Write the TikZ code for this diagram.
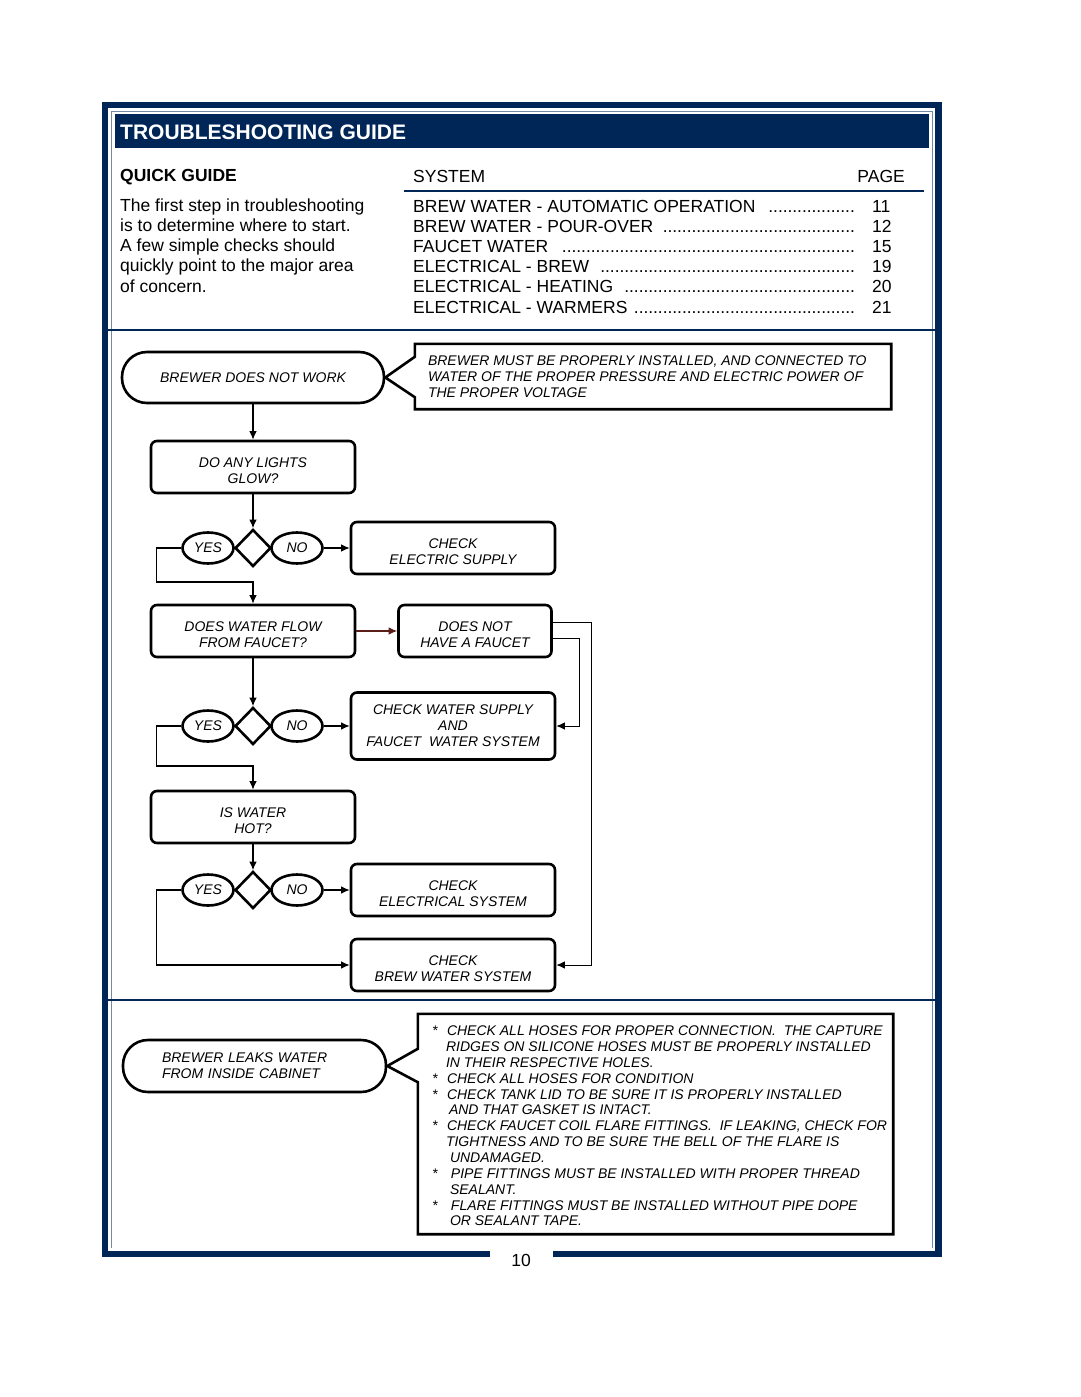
\documentclass[tikz,border=0pt]{standalone}
\usepackage{fontspec}
\setmainfont{Liberation Sans}
\usetikzlibrary{shapes,arrows.meta,positioning,calc}

\definecolor{guidenavy}{RGB}{0,38,87}
\definecolor{flowbrown}{RGB}{90,30,25}
\newcommand{\leaderdots}{\leaders\hbox to 4.8pt{\hss.\hss}\hfill}
\newcommand{\flowfont}{\fontsize{14}{16}\selectfont\itshape}
\newcommand{\firstline}{\rule{0pt}{16.5pt}}

\begin{document}
\begin{tikzpicture}[x=1pt, y=-1pt, on grid, >={Latex[length=8.5pt,width=7.5pt]},
    flowbox/.style={rectangle, draw, line width=2.6pt, rounded corners=6pt, minimum width=204pt, minimum height=52pt, inner sep=0pt, align=center, font=\flowfont},
    startbox/.style={rectangle, draw, line width=2.6pt, rounded corners=25pt, minimum width=262pt, minimum height=51pt, inner sep=0pt, font=\flowfont},
    answer/.style={ellipse, draw, line width=2.6pt, minimum width=51pt, minimum height=31pt, inner sep=0pt, font=\flowfont},
    decision/.style={diamond, draw, line width=2.6pt, minimum width=36pt, minimum height=37pt, inner sep=0pt},
    link/.style={->, line width=1.2pt},
    notebox/.style={rectangle, minimum width=476pt, inner sep=0pt},
    bodytext/.style={font=\fontsize{17.5}{20.2}\selectfont, inner sep=0pt}]
    \useasboundingbox (0,0) rectangle (1080,1397);

    % frame and header
    \draw[guidenavy, line width=6.5pt] (490,1254) -| (105,105) -| (938.5,1254) -- (553,1254);
    \draw[guidenavy!55, line width=0.8pt] (111,1248) -- (111,111) -- (932,111) -- (932,1248);
    \node[fill=guidenavy, minimum width=814pt, minimum height=34pt, inner sep=0pt, anchor=north west] (titlebar) at (115,114) {};
    \node[anchor=base west, inner sep=0pt, text=white, font=\fontsize{21}{24}\selectfont\bfseries] (title) at (120,139.5) {TROUBLESHOOTING GUIDE};

    \node[bodytext, anchor=base west, font=\fontsize{17.5}{20.2}\selectfont\bfseries] (quick) at (120,181) {QUICK GUIDE};
    \node[bodytext, anchor=north west, align=left] (intro) at (120,198.5) {The first step in troubleshooting\\is to determine where to start.\\A few simple checks should\\quickly point to the major area\\of concern.};

    \node[bodytext, anchor=base west] (system) at (413,182) {SYSTEM};
    \node[bodytext, anchor=base east] (page) at (905,182) {PAGE};
    \draw[guidenavy, line width=2pt] (404,191) -- (924,191);

    \node[bodytext, anchor=base west] (sys1) at (413,212) {\makebox[445pt][l]{BREW WATER - AUTOMATIC OPERATION\ \ \leaderdots}};
    \node[bodytext, anchor=base west] (sys2) at (413,232.2) {\makebox[445pt][l]{BREW WATER - POUR-OVER\ \leaderdots}};
    \node[bodytext, anchor=base west] (sys3) at (413,252.4) {\makebox[445pt][l]{FAUCET WATER\ \ \leaderdots}};
    \node[bodytext, anchor=base west] (sys4) at (413,272.6) {\makebox[445pt][l]{ELECTRICAL - BREW\ \ \leaderdots}};
    \node[bodytext, anchor=base west] (sys5) at (413,292.8) {\makebox[445pt][l]{ELECTRICAL - HEATING\ \ \leaderdots}};
    \node[bodytext, anchor=base west] (sys6) at (413,313) {\makebox[445pt][l]{ELECTRICAL - WARMERS\ \leaderdots}};
    \node[bodytext, anchor=base west] (pg1) at (872,212) {11};
    \node[bodytext, anchor=base west] (pg2) at (872,232.2) {12};
    \node[bodytext, anchor=base west] (pg3) at (872,252.4) {15};
    \node[bodytext, anchor=base west] (pg4) at (872,272.6) {19};
    \node[bodytext, anchor=base west] (pg5) at (872,292.8) {20};
    \node[bodytext, anchor=base west] (pg6) at (872,313) {21};

    \draw[guidenavy, line width=2pt] (108,330) -- (935,330);
    \draw[guidenavy, line width=2pt] (108,1000) -- (935,1000);

    % flow chart
    \node[startbox] (nowork) at (253,377.5) {BREWER DOES NOT WORK};
    \node[notebox, minimum height=65pt] (note1) at (653,376.5) {};
    \node[anchor=west, align=left, font=\flowfont, inner sep=0pt] (note1text) at ([xshift=13pt]note1.west) {BREWER MUST BE PROPERLY INSTALLED, AND CONNECTED TO\\WATER OF THE PROPER PRESSURE AND ELECTRIC POWER OF\\THE PROPER VOLTAGE};
    \draw[line width=2.6pt, line join=miter] (note1.north west) -- (note1.north east) -- (note1.south east) -- (note1.south west) -- ++(0,-12) -- (nowork.east) -- ($(note1.north west)+(0,13)$) -- cycle;

    \node[flowbox, below=89.5pt of nowork] (lights) {\firstline DO ANY LIGHTS\\GLOW?};
    \node[decision, below=81pt of lights] (dia1) {};
    \node[answer, left=45pt of dia1] (yes1) {YES};
    \node[answer, right=44pt of dia1] (no1) {NO};
    \node[flowbox, right=200pt of dia1] (elecsupply) {\firstline CHECK\\ELECTRIC SUPPLY};

    \node[flowbox, below=83pt of dia1] (flow) {\firstline DOES WATER FLOW\\FROM FAUCET?};
    \node[flowbox, minimum width=153pt, right=222pt of flow] (nofaucet) {\firstline DOES NOT\\HAVE A FAUCET};
    \node[decision, below=95pt of flow] (dia2) {};
    \node[answer, left=45pt of dia2] (yes2) {YES};
    \node[answer, right=44pt of dia2] (no2) {NO};
    \node[flowbox, minimum height=67pt, right=200pt of dia2] (supply) {CHECK WATER SUPPLY\\AND\\FAUCET\ \ WATER SYSTEM};

    \node[flowbox, below=91pt of dia2] (hot) {\firstline IS WATER\\HOT?};
    \node[decision, below=73pt of hot] (dia3) {};
    \node[answer, left=45pt of dia3] (yes3) {YES};
    \node[answer, right=44pt of dia3] (no3) {NO};
    \node[flowbox, right=200pt of dia3] (elecsystem) {\firstline CHECK\\ELECTRICAL SYSTEM};
    \node[flowbox, below=75pt of elecsystem] (brewsystem) {\firstline CHECK\\BREW WATER SYSTEM};

    \draw[link] (nowork) -- (lights);
    \draw[link] (lights) -- (dia1);
    \draw[link] (no1) -- (elecsupply);
    \draw[link] (yes1.west) -| ++(-25,34) -| (flow.north);
    \draw[link, flowbrown] (flow) -- (nofaucet);
    \draw[link, line width=1pt] ([yshift=9pt]nofaucet.east) -- ++(39,0) |- (brewsystem.east);
    \draw[link, line width=1pt] ([yshift=-7pt]nofaucet.east) -- ++(27,0) |- (supply.east);
    \draw[link] (flow) -- (dia2);
    \draw[link] (no2) -- (supply);
    \draw[link] (yes2.west) -| ++(-25,40) -| (hot.north);
    \draw[link] (hot) -- (dia3);
    \draw[link] (no3) -- (elecsystem);
    \draw[link] (yes3.west) -- ++(-25,0) |- (brewsystem.west);

    % leaks
    \node[startbox, minimum width=263pt, minimum height=52pt, text width=185pt, align=left] (leaks) at (254.5,1066) {BREWER LEAKS WATER\\FROM INSIDE CABINET};
    \node[notebox, minimum width=475pt, minimum height=220pt] (note2) at (655.5,1124) {};
    \draw[line width=2.6pt, line join=miter] (note2.north west) -- (note2.north east) -- (note2.south east) -- (note2.south west) -- ++(0,-152) -- (leaks.east) -- ($(note2.north west)+(0,35)$) -- cycle;
    \node[anchor=west, align=left, font=\fontsize{14}{15.85}\selectfont\itshape, inner sep=0pt] (note2text) at ([xshift=14pt, yshift=-2pt]note2.west) {%
        \makebox[15pt][l]{*}CHECK ALL HOSES FOR PROPER CONNECTION.\ \ THE CAPTURE\\
        \hspace*{14pt}RIDGES ON SILICONE HOSES MUST BE PROPERLY INSTALLED\\
        \hspace*{14pt}IN THEIR RESPECTIVE HOLES.\\
        \makebox[15pt][l]{*}CHECK ALL HOSES FOR CONDITION\\
        \makebox[15pt][l]{*}CHECK TANK LID TO BE SURE IT IS PROPERLY INSTALLED\\
        \hspace*{17pt}AND THAT GASKET IS INTACT.\\
        \makebox[15pt][l]{*}CHECK FAUCET COIL FLARE FITTINGS.\ \ IF LEAKING, CHECK FOR\\
        \hspace*{14pt}TIGHTNESS AND TO BE SURE THE BELL OF THE FLARE IS\\
        \hspace*{18pt}UNDAMAGED.\\
        \makebox[19pt][l]{*}PIPE FITTINGS MUST BE INSTALLED WITH PROPER THREAD\\
        \hspace*{18pt}SEALANT.\\
        \makebox[19pt][l]{*}FLARE FITTINGS MUST BE INSTALLED WITHOUT PIPE DOPE\\
        \hspace*{18pt}OR SEALANT TAPE.};

    \node[bodytext, anchor=base] (pagenum) at (521,1266) {10};
\end{tikzpicture}
\end{document}
